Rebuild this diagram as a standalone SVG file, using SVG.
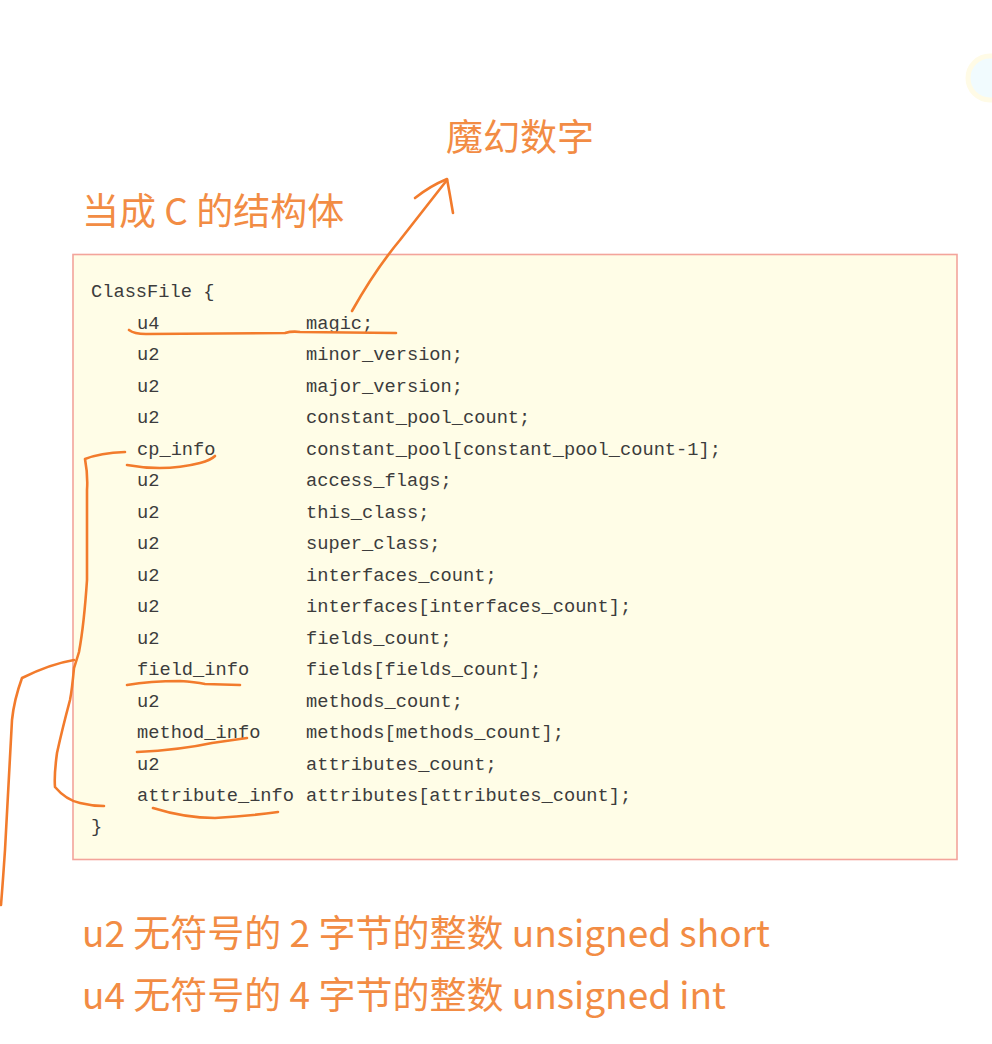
<svg xmlns="http://www.w3.org/2000/svg" width="992" height="1044" viewBox="0 0 992 1044">
<style>
.code{font-family:"Liberation Mono","DejaVu Sans Mono",monospace;font-size:18.7px;fill:#3c3c3c}
.note{font-family:"Noto Sans CJK SC","Noto Sans",sans-serif;font-size:37px;fill:#F28C44}
.pen{fill:none;stroke:#F27B2C;stroke-width:2.6;stroke-linecap:round;stroke-linejoin:round}
</style>
<rect x="0" y="0" width="992" height="1044" fill="#ffffff"/>
<circle cx="990" cy="78" r="22" fill="#F1FBFE" stroke="#FFFBE6" stroke-width="5"/>

<g id="titles">
  <text class="note" x="446" y="151">魔幻数字</text>
  <text class="note" x="82" y="225">当成 C 的结构体</text>
</g>

<g id="classfile">
  <rect x="73" y="254.5" width="884" height="605" fill="#FFFDE7" stroke="#F3A49B" stroke-width="1.6"/>
  <text class="code" x="91" y="297">ClassFile {</text>
  <g class="code">
    <text x="137" y="328.5">u4</text><text x="306" y="328.5">magic;</text>
    <text x="137" y="360">u2</text><text x="306" y="360">minor_version;</text>
    <text x="137" y="391.5">u2</text><text x="306" y="391.5">major_version;</text>
    <text x="137" y="423">u2</text><text x="306" y="423">constant_pool_count;</text>
    <text x="137" y="454.5">cp_info</text><text x="306" y="454.5">constant_pool[constant_pool_count-1];</text>
    <text x="137" y="486">u2</text><text x="306" y="486">access_flags;</text>
    <text x="137" y="517.5">u2</text><text x="306" y="517.5">this_class;</text>
    <text x="137" y="549">u2</text><text x="306" y="549">super_class;</text>
    <text x="137" y="580.5">u2</text><text x="306" y="580.5">interfaces_count;</text>
    <text x="137" y="612">u2</text><text x="306" y="612">interfaces[interfaces_count];</text>
    <text x="137" y="643.5">u2</text><text x="306" y="643.5">fields_count;</text>
    <text x="137" y="675">field_info</text><text x="306" y="675">fields[fields_count];</text>
    <text x="137" y="706.5">u2</text><text x="306" y="706.5">methods_count;</text>
    <text x="137" y="738">method_info</text><text x="306" y="738">methods[methods_count];</text>
    <text x="137" y="769.5">u2</text><text x="306" y="769.5">attributes_count;</text>
    <text x="137" y="801">attribute_info</text><text x="306" y="801">attributes[attributes_count];</text>
  </g>
  <text class="code" x="91" y="832">}</text>
</g>

<g id="annotations">
  <path class="pen" d="M129,330 Q134,334 146,334 L285,333 Q292,331 300,332 L396,333"/>
  <path class="pen" d="M352,311 Q375,270 400,240 Q425,208 447,180"/>
  <path class="pen" d="M415,198 Q430,186 447,179 Q450,195 453,213"/>
  <path class="pen" d="M127,465 Q165,472 200,463 Q211,460 215,456"/>
  <path class="pen" d="M125,452 Q100,453 85,459 Q88,475 87,490 L87,580 Q84,625 79,652 Q76,662 74,668 Q72,690 70,700 Q62,730 57,753 Q54,775 55,787 Q66,800 80,803 Q92,806 104,806"/>
  <path class="pen" d="M74,660 Q50,664 22,678 Q14,700 12,720 Q8,790 5,850 Q3,880 1,905"/>
  <path class="pen" d="M127,685 Q150,681 180,681 Q195,682 205,684 L240,685"/>
  <path class="pen" d="M137,752 Q180,750 212,743 L247,738"/>
  <path class="pen" d="M153,808 Q185,818 215,818 Q250,816 278,812"/>
</g>

<g id="legend">
  <text class="note" x="82" y="947">u2 无符号的 2 字节的整数 unsigned short</text>
  <text class="note" x="82" y="1009">u4 无符号的 4 字节的整数 unsigned int</text>
</g>
</svg>
